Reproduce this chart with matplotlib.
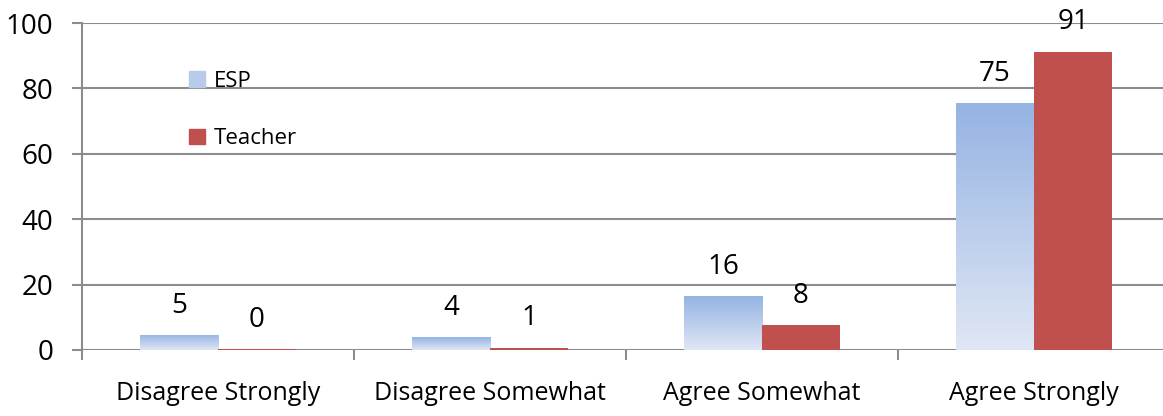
import numpy as np
import matplotlib
matplotlib.use("Agg")
import matplotlib.pyplot as plt
from matplotlib.colors import LinearSegmentedColormap
from matplotlib.patches import Patch

# data
categories = ["Disagree Strongly", "Disagree Somewhat", "Agree Somewhat", "Agree Strongly"]
esp = [4.6, 3.9, 16.4, 75.4]
teacher = [0.3, 0.7, 7.6, 91.2]
series_names = ["ESP", "Teacher"]

plt.rcParams['font.family'] = ['Open Sans', 'DejaVu Sans']

fig = plt.figure(figsize=(11.63, 4.16), dpi=100)
ax = fig.add_axes([82/1163, 1-350/416, 1088/1163, 327/416])

x = np.arange(len(categories))
w = 0.287
grad = LinearSegmentedColormap.from_list("esp", ["#E0E7F5", "#95B3E3"])

ax.set_xlim(-0.5, 3.5)
ax.set_ylim(0, 100)

# ESP bars with vertical gradient
b1 = ax.bar(x - w/2, esp, w, color="none", edgecolor="none", zorder=3)
for rect in b1:
    x0, y0 = rect.get_x(), rect.get_y()
    h = rect.get_height()
    img = ax.imshow(np.linspace(0, 1, 256).reshape(-1, 1), cmap=grad, origin="lower",
                    extent=[x0, x0 + rect.get_width(), y0, y0 + h],
                    aspect="auto", zorder=3)
    img.set_clip_path(rect)
b2 = ax.bar(x + w/2, teacher, w, color="#C0504D", zorder=3)

ax.set_xlim(-0.5, 3.5)
ax.set_ylim(0, 100)

for xs, vals in [(x - w/2, esp), (x + w/2, teacher)]:
    for xi, v in zip(xs, vals):
        ax.annotate(f"{v:.0f}", (xi, v), xytext=(0, 11), textcoords="offset points",
                    ha="center", va="bottom", fontsize=20, color="black")

# grid and spines
ax.set_yticks(np.arange(0, 101, 20))
ax.yaxis.grid(True, color="#8C8C8C", linewidth=1.5, zorder=0)
ax.set_axisbelow(True)
for s in ["top", "right", "bottom"]:
    ax.spines[s].set_visible(False)
ax.spines["left"].set_color("#8C8C8C")
ax.spines["left"].set_linewidth(1.5)
ax.tick_params(axis="y", length=7.5, width=1.5, color="#8C8C8C", labelsize=20, pad=13)

ax.set_xticks(x)
ax.set_xticklabels(categories)
ax.tick_params(axis="x", which="major", length=0, labelsize=18, pad=22)
ax.set_xticks(np.arange(-0.5, 4, 1), minor=True)
ax.tick_params(axis="x", which="minor", length=7, width=1.5, color="#8C8C8C")

handles = [Patch(color="#B9CBEB"), Patch(color="#C0504D")]
ax.legend(handles, series_names, loc="upper left", bbox_to_anchor=(0.080, 0.915),
          frameon=False, fontsize=16, labelspacing=1.65, handlelength=0.7,
          handleheight=0.7, handletextpad=0.4)

fig.savefig("out.png", dpi=100)
